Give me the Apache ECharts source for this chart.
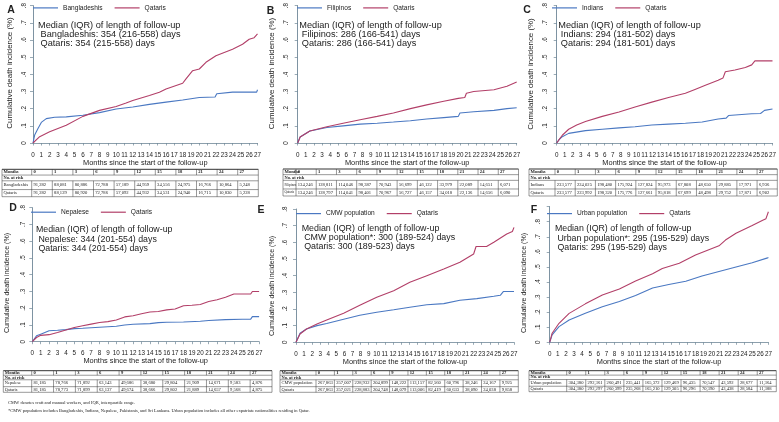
<!DOCTYPE html>
<html><head><meta charset="utf-8">
<script src="https://cdn.jsdelivr.net/npm/echarts/dist/echarts.min.js"></script>
<style>html,body{margin:0;padding:0;background:#fff}#c{width:779px;height:422px}</style>
</head><body><div id="c"></div><script>
// ---------- DATA ----------
const riskMonths = [0,1,3,6,9,12,15,18,21,24,27];
const groupNames = ['Bangladeshis','Filipinos','Indians','Nepalese','CMW population','Urban population'];
const panelLetters = ['A','B','C','D','E','F'];
const medianText = [
  ['Median (IQR) of length of follow-up',' Bangladeshis: 354 (216-558) days',' Qataris: 354 (215-558) days'],
  ['Median (IQR) of length of follow-up',' Filipinos: 286 (166-541) days',' Qataris: 286 (166-541) days'],
  ['Median (IQR) of length of follow-up',' Indians: 294 (181-502) days',' Qataris: 294 (181-501) days'],
  ['Median (IQR) of length of follow-up',' Nepalese: 344 (201-554) days',' Qataris: 344 (201-554) days'],
  ['Median (IQR) of length of follow-up',' CMW population*: 300 (189-524) days',' Qataris: 300 (189-523) days'],
  ['Median (IQR) of length of follow-up',' Urban population*: 295 (195-529) days',' Qataris: 295 (195-529) days']
];
const footnotes = [
  'CMW denotes craft and manual workers, and IQR, interquartile range.',
  '*CMW population includes Bangladeshis, Indians, Nepalese, Pakistanis, and Sri Lankans. Urban population includes all other expatriate nationalities residing in Qatar.'
];

// Panel A
const aGroupMonths = [0,0.2,0.6,1.0,1.6,2.6,4,6,8,10,12,14,16,18,20,21.9,22.1,24,26.9,27];
const aGroupInc    = [0,0.046,0.085,0.12,0.142,0.15,0.152,0.162,0.177,0.198,0.21,0.225,0.238,0.25,0.265,0.268,0.287,0.296,0.296,0.31];
const aQatarMonths = [0,0.2,0.8,2,4,6,8,10,11.2,12,14,15.2,16,18,18.4,19.2,20,20.8,22,24,25.2,26,26.6,27];
const aQatarInc    = [0,0.008,0.037,0.065,0.104,0.155,0.19,0.213,0.233,0.248,0.277,0.296,0.315,0.348,0.373,0.421,0.431,0.47,0.508,0.546,0.575,0.604,0.613,0.635];
// Panel B
const bGroupMonths = [0,0.3,1.5,3.6,5.6,7.7,9.8,11.8,13.9,15.9,18,19.8,20,21.7,24.2,25.8,27];
const bGroupInc    = [0,0.035,0.07,0.09,0.1,0.11,0.115,0.122,0.13,0.14,0.148,0.155,0.175,0.182,0.19,0.2,0.205];
const bQatarMonths = [0,0.3,1.5,3.6,5.6,7.7,9.8,11.8,13.9,15.9,18,19.8,20.6,20.8,21.7,24.2,25.8,27];
const bQatarInc    = [0,0.035,0.07,0.095,0.115,0.135,0.155,0.175,0.2,0.222,0.243,0.26,0.265,0.29,0.3,0.31,0.33,0.355];
// Panel C
const cGroupMonths = [0,0.3,0.7,1.5,3.6,5.7,7.8,9.8,11.9,14,16.1,18.2,20.2,21.2,21.5,24.4,25.5,26,27];
const cGroupInc    = [0,0.02,0.037,0.056,0.072,0.08,0.088,0.095,0.105,0.11,0.115,0.122,0.14,0.145,0.16,0.17,0.172,0.19,0.198];
const cQatarMonths = [0,0.3,0.7,1.5,2.5,3.6,5.7,7.8,9.8,11.9,14,16.1,17.3,18.6,20.2,20.8,21.1,22.3,23.6,24.4,24.8,27];
const cQatarInc    = [0,0.02,0.045,0.08,0.105,0.125,0.155,0.18,0.21,0.238,0.265,0.29,0.312,0.336,0.365,0.378,0.415,0.425,0.44,0.455,0.478,0.478];
// Panel D
const dGroupMonths = [0,0.5,1,2,3,4,5,6,8,10,11,12,14,15,16,18,20,21,23,25,26,26.2,27];
const dGroupInc    = [0,0.035,0.045,0.065,0.068,0.072,0.078,0.08,0.086,0.092,0.1,0.104,0.108,0.114,0.116,0.118,0.122,0.127,0.132,0.134,0.135,0.15,0.15];
const dQatarMonths = [0,0.5,1,2,3,4,5,6,7,8,9,10,11,12,13,14,15,16,17,18,19,20,21,22,23,24,26,26.2,27];
const dQatarInc    = [0,0.025,0.038,0.042,0.055,0.07,0.085,0.095,0.105,0.115,0.12,0.13,0.148,0.155,0.167,0.177,0.18,0.19,0.195,0.215,0.218,0.222,0.24,0.25,0.265,0.285,0.285,0.3,0.3];
// Panel E
const eGroupMonths = [0,0.5,1.3,2.6,3.8,5.9,7.9,10,12.1,14.1,16.2,18.3,20.3,22.4,24.5,25.3,25.7,27];
const eGroupInc    = [0,0.054,0.08,0.1,0.113,0.138,0.162,0.18,0.195,0.21,0.225,0.232,0.252,0.262,0.276,0.282,0.305,0.305];
const eQatarMonths = [0,0.5,1.3,2.6,3.8,5.9,7.9,10,12.1,14.1,16.2,18.3,20.3,22,22.3,23.6,24.5,26.1,26.8,27];
const eQatarInc    = [0,0.05,0.08,0.11,0.134,0.175,0.222,0.27,0.31,0.36,0.4,0.44,0.48,0.53,0.575,0.575,0.6,0.65,0.665,0.69];
// Panel F
const fGroupMonths = [0,0.3,1.15,2.4,4.4,6.5,8.6,10.6,12.7,14.7,16.8,18.8,20.9,23,25,26.9,27];
const fGroupInc    = [0,0.049,0.104,0.148,0.192,0.236,0.27,0.31,0.36,0.383,0.405,0.44,0.47,0.5,0.528,0.56,0.562];
const fQatarMonths = [0,0.3,1.15,2.4,4.4,6.5,8.6,10.6,12.7,13.9,16,18,20.9,21.7,23,25,26.3,26.7,27];
const fQatarInc    = [0,0.06,0.126,0.192,0.255,0.314,0.354,0.407,0.455,0.49,0.524,0.579,0.64,0.678,0.723,0.775,0.81,0.82,0.866];

// Numbers at risk
const aGroupRisk = [91282,88081,80886,72788,57189,44959,34556,24975,16766,10864,5248];
const aQatarRisk = [91282,88129,80920,72786,57092,44932,34531,24940,16715,10830,5228];
const bGroupRisk = [134246,128811,114046,98387,70943,56699,46122,33979,22089,14651,6071];
const bQatarRisk = [134246,128797,114041,98401,70967,56727,46157,34018,22136,14656,6090];
const cGroupRisk = [233577,224025,198480,175924,127824,95973,67808,48650,29885,17971,6936];
const cQatarRisk = [233577,223992,198320,175776,127661,95818,67699,48498,29752,17871,6902];
const dGroupRisk = [81185,78766,71892,63143,49686,38680,29804,21909,14671,9583,4876];
const dQatarRisk = [81185,78773,71899,63137,49674,38666,29802,21889,14657,9568,4875];
const eGroupRisk = [267863,257007,228932,204899,148222,113157,82560,60796,38246,24167,9925];
const eQatarRisk = [267863,257021,228883,204748,148079,113006,82419,60633,38090,24038,9858];
const fGroupRisk = [304380,292361,260491,235441,165372,129469,96435,70547,43592,28677,11364];
const fQatarRisk = [304380,292297,260399,235268,165210,129305,96296,70390,43438,28584,11388];

const groupSeries = [[aGroupMonths,aGroupInc],[bGroupMonths,bGroupInc],[cGroupMonths,cGroupInc],[dGroupMonths,dGroupInc],[eGroupMonths,eGroupInc],[fGroupMonths,fGroupInc]];
const qatarSeries = [[aQatarMonths,aQatarInc],[bQatarMonths,bQatarInc],[cQatarMonths,cQatarInc],[dQatarMonths,dQatarInc],[eQatarMonths,eQatarInc],[fQatarMonths,fQatarInc]];
const groupRisk = [aGroupRisk,bGroupRisk,cGroupRisk,dGroupRisk,eGroupRisk,fGroupRisk];
const qatarRisk = [aQatarRisk,bQatarRisk,cQatarRisk,dQatarRisk,eQatarRisk,fQatarRisk];

// ---------- LAYOUT ----------
const BLUE = '#4a78c2', RED = '#b23f68', AXIS = '#6f8797', TXT = '#222';
const SANS = '"Liberation Sans", Arial, sans-serif', SERIF = '"Liberation Serif", "Times New Roman", serif';
const layout = [
  {gx:33,    gw:224.5, gy:4.7,   gh:138.3, ymax:0.8, yoff:2, leg:[33,4.4],     letter:[11,10],   note:[38,25],    yt:[10,73],   ytf:7.9, nf:9.2, tab:[2,31.7,258.3,169.3,196.7], lf:4.6},
  {gx:297.7, gw:219,   gy:4.7,   gh:138.3, ymax:0.8, yoff:4, leg:[297,4.4],    letter:[270.5,11],note:[299.3,25], yt:[272,73.5], ytf:7.9, nf:9.2, tab:[283,296,518.5,169,196], lf:3.3},
  {gx:556.7, gw:216.7, gy:4.7,   gh:138.3, ymax:0.8, yoff:4, leg:[552,4.4],    letter:[527,10],  note:[558.3,25], yt:[531,74],   ytf:7.9, nf:9.2, tab:[529,555,777.3,169,196], lf:4.6},
  {gx:32.3,  gw:226.8, gy:207.7, gh:134,   ymax:0.8, yoff:2, leg:[31,208.7],   letter:[13,208],  note:[36,230],   yt:[7,283],   ytf:7.1, nf:8.8, tab:[3.3,31.7,272,370.7,392.3], lf:4.4},
  {gx:296,   gw:218,   gy:209,   gh:133.3, ymax:0.8, yoff:4, leg:[296,210.1],  letter:[261,210], note:[301.7,228.3],yt:[272,286], ytf:7.1, nf:8.9, tab:[280,316,518.3,370.7,392.3], lf:4.4},
  {gx:549.7, gw:218.7, gy:206.6, gh:135.7, ymax:0.9, yoff:4, leg:[547,210.1],  letter:[534,210], note:[555,229],   yt:[524,283],  ytf:7.1, nf:8.8, tab:[529,566.7,776.3,370.7,391.7], lf:4.4}
];
const rowFrac = [0.21,0.21,0.32,0.26];

// ---------- BUILD ----------
const zip = (m, v) => m.map((x, i) => [x, v[i]]);
const fmt = n => n.toLocaleString('en-US');
const grids = [], xAxes = [], yAxes = [], series = [], legends = [], graphics = [];

function txt(x, y, text, font, opts) {
  opts = opts || {};
  const el = {type:'text', x, y, silent:true,
    style:{text, font, fill: opts.fill || TXT,
      align: opts.align || 'left', verticalAlign: 'middle',
      textAlign: opts.align || 'left', textVerticalAlign: 'middle'}};
  if (opts.rotation) el.rotation = opts.rotation;
  return el;
}
function ln(x1, y1, x2, y2, w, c) {
  return {type:'line', silent:true, shape:{x1,y1,x2,y2}, style:{stroke:c || '#333', lineWidth:w || 0.6}};
}

layout.forEach((L, i) => {
  grids.push({left:L.gx, top:L.gy, width:L.gw, height:L.gh, containLabel:false});
  xAxes.push({type:'value', gridIndex:i, min:0, max:27, interval:1, offset:6,
    axisLine:{show:true, lineStyle:{color:AXIS, width:0.8}},
    axisTick:{show:true, length:2.5, lineStyle:{color:AXIS, width:0.7}},
    axisLabel:{fontSize:6.3, color:TXT, margin:3, fontFamily:SANS},
    splitLine:{show:false},
    name:'Months since the start of the follow-up', nameLocation:'middle', nameGap:10,
    nameTextStyle:{fontSize:7.4, color:TXT, fontFamily:SANS}});
  yAxes.push({type:'value', gridIndex:i, min:0, max:L.ymax, interval:0.1, offset:L.yoff,
    axisLine:{show:true, lineStyle:{color:AXIS, width:0.9}},
    axisTick:{show:true, length:3, lineStyle:{color:AXIS, width:0.7}},
    axisLabel:{fontSize:6.3, color:TXT, margin:4, rotate:90, fontFamily:SANS,
      formatter: v => v > 0.8001 ? '' : (v < 1e-9 ? '0' : '.' + Math.round(v * 10))},
    splitLine:{show:false}});
  series.push({type:'line', name:groupNames[i], xAxisIndex:i, yAxisIndex:i, symbol:'none', silent:true,
    data:zip(groupSeries[i][0], groupSeries[i][1]), lineStyle:{color:BLUE, width:1.1}, itemStyle:{color:BLUE}});
  series.push({type:'line', name:'Qataris', xAxisIndex:i, yAxisIndex:i, symbol:'none', silent:true,
    data:zip(qatarSeries[i][0], qatarSeries[i][1]), lineStyle:{color:RED, width:1.1}, itemStyle:{color:RED}});
  legends.push({left:L.leg[0], top:L.leg[1], padding:0, icon:'rect', itemWidth:25, itemHeight:1.2, itemGap:12, selectedMode:false,
    textStyle:{fontSize:6.6, color:TXT, fontFamily:SANS}, data:[groupNames[i], 'Qataris']});

  graphics.push(txt(L.letter[0], L.letter[1], panelLetters[i], 'bold 10.5px ' + SANS, {align:'center'}));
  graphics.push(txt(L.yt[0], L.yt[1], 'Cumulative death incidence (%)', L.ytf + 'px ' + SANS, {align:'center', rotation:Math.PI/2}));
  medianText[i].forEach((t, k) => graphics.push(txt(L.note[0], L.note[1] + k * 9.2, t, L.nf + 'px ' + SANS)));

  // at-risk table
  const [l, lc, r, t, b] = L.tab;
  const H = b - t;
  const ys = [t];
  rowFrac.forEach(f => ys.push(ys[ys.length - 1] + H * f));
  const cw = (r - lc) / riskMonths.length;
  ys.forEach((y, k) => graphics.push(ln(l, y, r, y, k === 0 ? 1 : 0.5)));
  graphics.push(ln(l, t, l, b, 0.5));
  graphics.push(ln(r, t, r, b, 0.5));
  for (let c = 0; c < riskMonths.length; c++) {
    const x = lc + c * cw;
    graphics.push(ln(x, ys[0], x, ys[1], 0.5));
    graphics.push(ln(x, ys[2], x, ys[4], 0.5));
  }
  const cy = k => (ys[k] + ys[k + 1]) / 2;
  const nf = L.lf + 'px ' + SERIF;
  graphics.push(txt(l + 1.5, cy(0), 'Months', 'bold 4.6px ' + SERIF));
  graphics.push(txt(l + 1.5, cy(1), 'No. at risk', 'bold 4.4px ' + SERIF));
  graphics.push(txt(l + 1.5, cy(2), groupNames[i], nf));
  graphics.push(txt(l + 1.5, cy(3), 'Qataris', nf));
  riskMonths.forEach((m, c) => {
    const x = lc + c * cw + 1.8;
    graphics.push(txt(x, cy(0), String(m), 'bold 4.6px ' + SERIF));
    graphics.push(txt(x, cy(2), fmt(groupRisk[i][c]), '4.6px ' + SERIF));
    graphics.push(txt(x, cy(3), fmt(qatarRisk[i][c]), '4.6px ' + SERIF));
  });
});
graphics.push(txt(8, 402.7, footnotes[0], '4.5px ' + SERIF));
graphics.push(txt(8, 410.7, footnotes[1], '4.5px ' + SERIF));

const chart = echarts.init(document.getElementById('c'), null, {renderer:'canvas'});
chart.setOption({
  animation:false,
  backgroundColor:'#fff',
  grid:grids, xAxis:xAxes, yAxis:yAxes, series, legend:legends,
  graphic:{elements:graphics}
});
</script></body></html>
